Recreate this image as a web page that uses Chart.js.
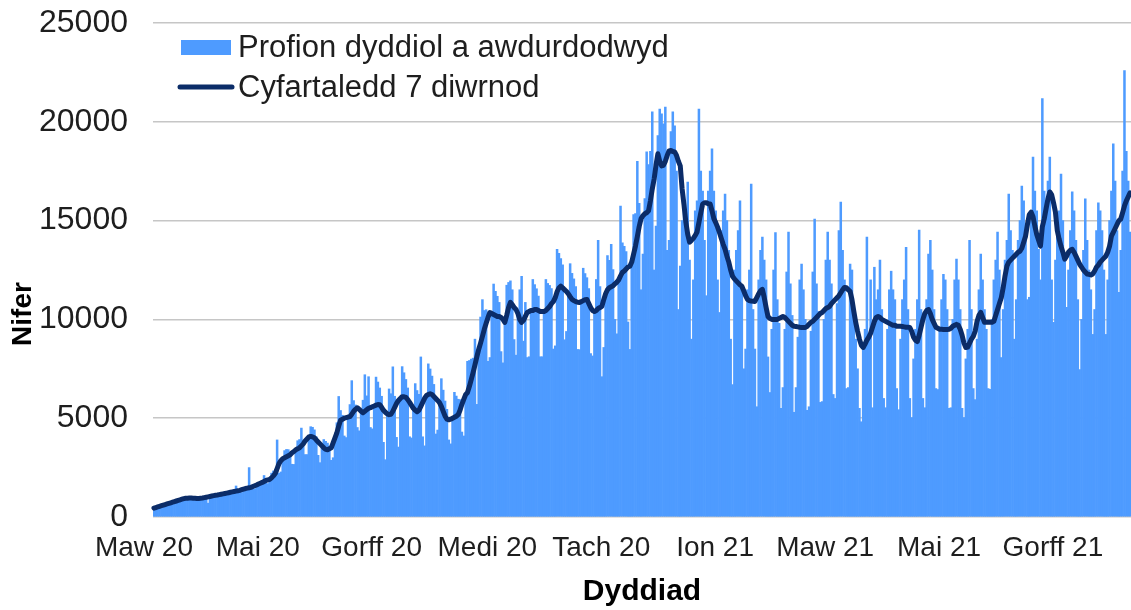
<!DOCTYPE html>
<html>
<head>
<meta charset="utf-8">
<script src="https://cdn.jsdelivr.net/npm/chart.js@4.4.1/dist/chart.umd.min.js"></script>
<style>
  html, body { margin: 0; padding: 0; background: #ffffff; }
  #wrap { width: 1131px; height: 610px; position: relative; }
</style>
</head>
<body>
<div id="wrap"><canvas id="c" width="1131" height="610"></canvas></div>
<script>
// ---- DATA ----
const startDate = '2020-03-01';
const seriesNames = ['Profion dyddiol a awdurdodwyd', 'Cyfartaledd 7 diwrnod'];
const tickDates = ['2020-03-01','2020-05-01','2020-07-01','2020-09-01','2020-11-01','2021-01-01','2021-03-01','2021-05-01','2021-07-01'];
const tickLabels = ['Maw 20','Mai 20','Gorff 20','Medi 20','Tach 20','Ion 21','Maw 21','Mai 21','Gorff 21'];
const yTicks = [0, 5000, 10000, 15000, 20000, 25000];

const daily = [
470,500,530,550,540,540,630,
690,720,750,770,730,730,840,
910,950,970,970,890,860,960,
1000,1000,980,960,890,860,980,
1050,700,1080,1080,1020,990,1110,
1190,1210,1220,1210,1140,1110,1250,
1330,1350,1570,1360,1270,1240,1410,
1510,1530,2500,1530,1450,1420,1620,
1750,1800,1820,2100,1740,1690,1900,
2220,2330,2420,3900,2210,2280,2950,
3360,3420,3410,3280,2670,2660,3400,
3860,3920,4500,3850,3160,3160,4050,
4570,4540,4410,4060,3120,2750,3600,
3920,3830,3740,3590,2870,3000,4000,
4770,6100,5390,5150,4100,4020,5060,
5690,6900,5890,5670,4530,4360,5350,
5910,7200,6130,7100,4530,4460,5620,
7080,6830,6530,6110,3780,2900,5220,
6480,6240,7600,6110,4030,3540,6000,
7610,7300,6960,6530,4060,4000,5500,
6750,6400,6210,8100,4060,3600,6150,
7750,7490,7130,6710,4200,4400,5790,
7000,6420,5870,5450,3900,3700,5000,
6310,6120,5960,5940,4300,4100,6190,
7880,7920,7990,8040,9000,5700,8480,
10120,11000,10450,10490,7880,8070,10300,
11790,11420,11170,10860,8370,7800,9850,
11730,11870,11950,11500,8980,8190,10300,
11500,12180,8900,10860,8070,8110,10450,
12020,11760,11550,11180,8110,8110,10400,
12020,11820,11720,11560,8500,8660,13550,
13340,13080,12760,8970,9390,11300,12820,
12330,12050,11660,8480,8470,10900,12590,
12320,12110,11560,8270,8150,10400,12020,
14000,11660,7100,8580,11300,13230,12990,
13800,12520,10000,9270,12000,15730,13870,
13700,13430,9870,8480,12900,15300,15350,
18000,15880,11500,13300,16120,18480,17830,
18500,20500,12500,14720,19300,20650,20400,
19900,20750,13500,14000,19500,20500,19800,
17500,10500,12700,15000,16000,14500,16950,
13000,9000,12000,15500,16000,20650,17500,
16500,14000,11200,16500,17500,18630,16500,
15500,12000,10350,14500,15500,16340,15000,
13500,9000,6700,12500,13500,14500,16000,
11500,7500,8500,11500,12500,16850,10500,
8500,5580,12000,13500,14160,13000,12000,
8100,6300,9500,12500,14400,11000,9800,
5500,6550,9500,12400,14420,11800,10200,
5300,6550,9100,12000,12800,11500,10000,
5400,5580,9400,12400,15080,11800,10400,
5800,5840,10000,13000,14420,13000,11800,
6200,6000,10800,14500,15940,13500,12000,
6500,6550,12800,12500,10500,9000,7500,
5500,4820,8500,9500,14160,9000,12000,
5530,12640,11000,11500,13000,10500,6000,
5530,9500,11500,12440,11500,11000,6500,
5430,9000,11000,12000,13650,10500,6000,
5030,8000,9500,11000,14520,10500,6000,
5530,11000,13300,14000,12500,10500,6500,
6450,9500,11000,12280,12000,10500,5500,
5530,10000,12000,13050,12000,10500,5500,
5030,8000,9500,14000,10500,6500,5940,
9000,11500,13300,12000,10500,9500,6500,
6460,10000,12000,13000,14420,12500,8070,
10500,13000,14000,16340,14500,13500,9000,
11000,14000,15000,16750,16000,14500,11000,
11120,15000,18220,16500,15500,13550,12000,
21170,16500,16000,17000,18220,12000,9850,
13000,14500,15500,17360,15000,13000,10610,
12500,14500,16450,15500,14000,11000,7460,
10000,13500,16100,14000,12500,11500,9240,
10500,14500,15900,15500,14500,12500,9240,
12000,15000,16500,18880,17000,14500,11370,
13500,17500,22590,18500,17000,14420
];

const avg7 = [
450,480,510,540,570,600,630,
660,690,720,750,780,810,840,
870,900,930,950,950,960,960,
950,950,940,940,950,960,980,
1000,1020,1040,1060,1080,1100,1110,
1130,1150,1170,1190,1210,1230,1250,
1270,1290,1310,1330,1350,1380,1410,
1440,1460,1480,1500,1540,1580,1620,
1670,1710,1750,1800,1850,1880,1900,
1980,2080,2200,2450,2700,2850,2950,
3000,3050,3100,3150,3250,3320,3400,
3450,3500,3600,3700,3850,3950,4050,
4080,4050,4010,3900,3800,3700,3600,
3500,3420,3400,3450,3500,3750,4000,
4260,4600,4900,4950,5000,5030,5060,
5080,5200,5350,5450,5530,5450,5350,
5280,5350,5430,5500,5530,5580,5620,
5660,5690,5680,5550,5400,5300,5220,
5180,5200,5350,5550,5750,5900,6000,
6090,6080,6050,5940,5800,5650,5500,
5400,5330,5400,5600,5800,6000,6150,
6200,6240,6200,6100,6000,5900,5790,
5600,5350,5100,4950,4920,4950,5000,
5050,5100,5180,5400,5700,5950,6190,
6300,6600,6950,7310,7700,8100,8480,
8800,9140,9500,9800,10100,10350,10300,
10250,10200,10150,10150,10100,10000,9850,
10200,10600,10860,10750,10600,10500,10300,
10000,9850,9950,10150,10350,10400,10450,
10450,10500,10500,10450,10400,10400,10400,
10450,10550,10650,10800,10900,11100,11400,
11600,11680,11600,11500,11420,11300,11150,
11010,10950,10900,10870,10860,10900,10950,
11000,11010,10800,10600,10450,10400,10450,
10550,10600,10660,11000,11300,11500,11600,
11650,11700,11800,11880,12000,12200,12380,
12450,12550,12650,12690,12900,13300,13710,
14200,14700,15100,15250,15350,15400,15500,
16000,16600,17100,17800,18380,18000,17770,
17800,18000,18300,18530,18550,18500,18480,
18300,18000,17770,16600,15800,14920,14300,
13910,14000,14100,14250,14420,14900,15400,
15840,15900,15900,15850,15840,15500,15100,
14900,14670,14400,14100,13800,13550,13200,
12900,12500,12180,12050,11950,11850,11750,
11680,11450,11200,11010,10950,10930,10920,
10910,11100,11300,11450,11520,11100,10600,
10150,10050,10000,10000,10000,10000,10050,
10100,10150,10100,10000,9900,9800,9700,
9650,9640,9620,9600,9590,9590,9590,
9650,9750,9850,9900,10000,10100,10200,
10300,10350,10450,10550,10600,10660,10800,
10900,11000,11100,11200,11350,11500,11620,
11600,11500,11420,11000,10400,9850,9400,
9000,8700,8580,8750,8950,9100,9300,
9600,9900,10100,10150,10100,10000,9950,
9900,9850,9800,9750,9700,9700,9650,
9650,9650,9640,9620,9600,9600,9590,
9400,9100,8950,8880,9200,9600,10000,
10300,10450,10500,10300,10000,9800,9600,
9550,9500,9500,9490,9490,9490,9500,
9550,9650,9700,9750,9700,9500,9200,
8800,8580,8600,8800,9000,9140,9400,
9900,10200,10350,10100,9850,9850,9850,
9850,9850,9900,10200,10500,10800,11100,
11600,12200,12690,12900,13000,13100,13200,
13300,13400,13450,13600,13900,14210,14800,
15300,15430,15200,14720,14300,14000,13710,
14700,15080,15600,16100,16450,16300,15900,
15430,14500,14060,13700,13400,13050,13200,
13400,13500,13550,13400,13200,13000,12790,
12650,12500,12400,12300,12280,12250,12300,
12450,12640,12750,12900,13000,13100,13200,
13400,13700,14210,14400,14600,14800,15000,
15080,15400,15740,16000,16200,16400
];

// ---- categories (one per day) ----
const categories = [];
{
  const t0 = Date.parse(startDate + 'T00:00:00Z');
  for (let i = 0; i < daily.length; i++) {
    categories.push(new Date(t0 + i * 86400000).toISOString().slice(0, 10));
  }
}
const tickIdx = tickDates.map(d => categories.indexOf(d));

// ---- STYLE ----
const FONT = '"Liberation Sans", Arial, sans-serif';
const BAR_COLOR = '#4e9bff';
const LINE_COLOR = '#0b2c68';
const TEXT_COLOR = '#1e1e1e';

const overlay = {
  id: 'overlay',
  afterDraw(chart) {
    const c = chart.ctx;
    c.save();
    // legend
    c.fillStyle = BAR_COLOR;
    c.fillRect(181, 40, 50, 15);
    c.strokeStyle = LINE_COLOR;
    c.lineWidth = 5;
    c.lineCap = 'round';
    c.beginPath(); c.moveTo(180, 87); c.lineTo(232, 87); c.stroke();
    c.fillStyle = TEXT_COLOR;
    c.font = '31px ' + FONT;
    c.textBaseline = 'middle';
    c.textAlign = 'left';
    c.fillText(chart.data.datasets[1].label, 238, 48);
    c.fillText(chart.data.datasets[0].label, 238, 88);
    // y axis title
    c.translate(23, 314);
    c.rotate(-Math.PI / 2);
    c.font = 'bold 28px ' + FONT;
    c.fillStyle = '#000';
    c.textAlign = 'center';
    c.fillText('Nifer', 0, 0);
    c.restore();
  }
};

new Chart(document.getElementById('c'), {
  type: 'bar',
  data: {
    labels: categories,
    datasets: [
      {
        type: 'line', label: seriesNames[1], data: avg7,
        borderColor: LINE_COLOR, borderWidth: 5, pointRadius: 0,
        tension: 0, borderJoinStyle: 'round', borderCapStyle: 'round',
        order: 0
      },
      {
        type: 'bar', label: seriesNames[0], data: daily,
        backgroundColor: BAR_COLOR, borderWidth: 0,
        barPercentage: 1, categoryPercentage: 1, order: 1
      }
    ]
  },
  options: {
    responsive: false, animation: false, devicePixelRatio: 1,
    layout: { padding: { top: 23, right: 0, bottom: 0, left: 0 } },
    plugins: { legend: { display: false }, tooltip: { enabled: false } },
    scales: {
      x: {
        grid: { display: false, drawTicks: false },
        border: { display: false },
        afterBuildTicks: s => { s.ticks = tickIdx.map(v => ({ value: v })); },
        ticks: {
          autoSkip: false, maxRotation: 0, minRotation: 0,
          labelOffset: -10, padding: 14, color: TEXT_COLOR,
          font: { family: FONT, size: 28 },
          callback: v => { const i = tickIdx.indexOf(v); return i >= 0 ? tickLabels[i] : ''; }
        },
        title: {
          display: true, text: 'Dyddiad', color: '#000',
          font: { family: FONT, size: 30, weight: 'bold' },
          padding: { top: 0, bottom: 0 }
        },
        afterFit: s => { s.height = 93; }
      },
      y: {
        min: 0, max: 25000,
        afterBuildTicks: s => { s.ticks = yTicks.map(v => ({ value: v })); },
        grid: { color: '#c6c6c6', lineWidth: 1.5, drawTicks: true, tickLength: 25, tickColor: 'rgba(0,0,0,0)' },
        border: { display: false },
        ticks: {
          padding: 0, color: TEXT_COLOR, font: { family: FONT, size: 32 },
          callback: v => String(v)
        },
        afterFit: s => { s.width = 153; }
      }
    }
  },
  plugins: [overlay]
});
</script>
</body>
</html>
